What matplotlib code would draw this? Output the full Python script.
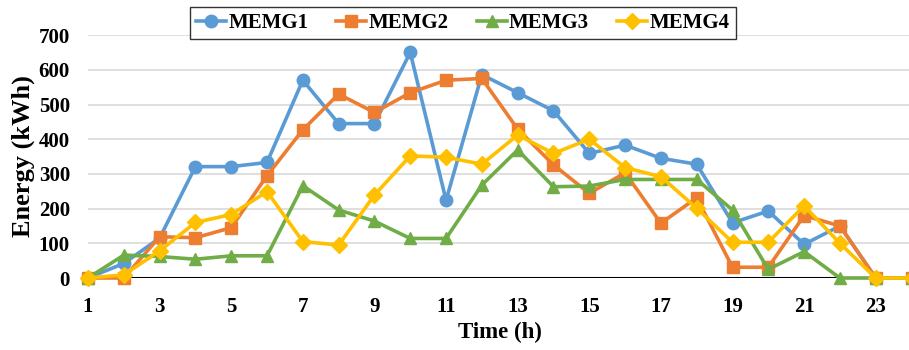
import matplotlib
matplotlib.use("Agg")
import matplotlib.pyplot as plt

hours = list(range(1, 25))
memg1 = [0, 42, 115, 321, 321, 333, 570, 445, 445, 650, 224, 586,
         534, 482, 359, 383, 345, 328, 159, 193, 97, 150, 0, 0]
memg2 = [0, 0, 119, 116, 145, 295, 427, 530, 477, 534, 570, 575,
         429, 326, 244, 303, 158, 231, 31, 31, 180, 150, 0, 0]
memg3 = [0, 66, 62, 54, 64, 64, 266, 196, 164, 114, 114, 268,
         369, 263, 265, 284, 284, 284, 196, 25, 76, 0, 0, 0]
memg4 = [0, 9, 78, 160, 183, 249, 105, 95, 239, 352, 348, 328,
         412, 359, 400, 318, 292, 201, 103, 103, 208, 100, 0, 0]

series = [
    ("MEMG1", memg1, "#5B9BD5", "o", 9),
    ("MEMG2", memg2, "#ED7D31", "s", 8.5),
    ("MEMG3", memg3, "#70AD47", "^", 9),
    ("MEMG4", memg4, "#FFC000", "D", 8),
]

plt.rcParams["font.family"] = ["Liberation Serif", "DejaVu Serif"]
plt.rcParams["font.weight"] = "bold"

fig = plt.figure(figsize=(9.09, 3.5), dpi=100)
ax = fig.add_axes([0.0968, 0.2057, 0.906, 0.694])

for name, vals, color, marker, ms in series:
    ax.plot(hours, vals, color=color, lw=2.6, marker=marker, ms=ms,
            markeredgecolor=color, label=name, clip_on=False, zorder=3)

ax.set_xlim(1, 24)
ax.set_ylim(0, 700)
ax.set_yticks(range(0, 701, 100))
ax.set_xticks(hours[::2])
ax.tick_params(axis="both", length=0, labelsize=15)
ax.tick_params(axis="x", pad=14)
ax.tick_params(axis="y", pad=13)
for lbl in ax.get_xticklabels() + ax.get_yticklabels():
    lbl.set_fontweight("bold")

ax.grid(axis="y", color="#D9D9D9", lw=1.2)
ax.set_axisbelow(True)
for side in ("top", "right", "left", "bottom"):
    ax.spines[side].set_visible(False)
ax.axhline(0, color="black", lw=2.2, zorder=2)

ax.set_xlabel("Time (h)", fontsize=16.5, fontweight="bold", labelpad=3)
ax.set_ylabel("Energy (kWh)", fontsize=19, fontweight="bold", labelpad=3)

leg = fig.legend(loc="center", bbox_to_anchor=(0.509, 0.934), ncol=4,
                 frameon=True, fancybox=False, edgecolor="black",
                 fontsize=15, handlelength=1.45, columnspacing=1.35,
                 handletextpad=0.1, borderpad=0.3)
leg.get_frame().set_linewidth(1.0)
for t in leg.get_texts():
    t.set_fontweight("bold")

fig.savefig("out.png", dpi=100)
